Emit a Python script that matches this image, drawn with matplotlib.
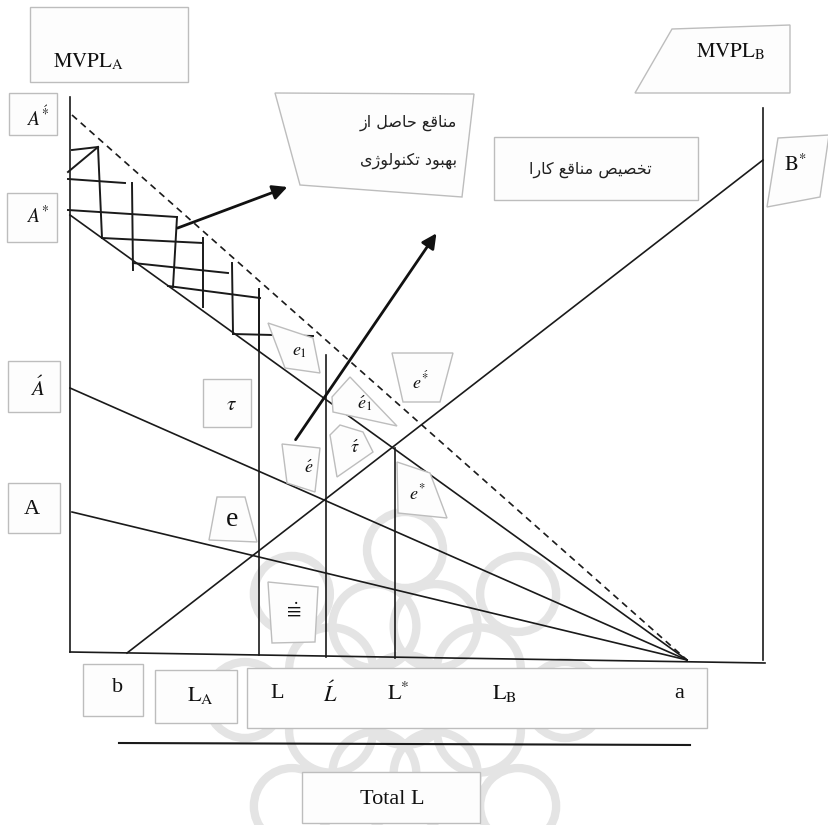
import numpy as np
import matplotlib
matplotlib.use("Agg")
import matplotlib.pyplot as plt
from matplotlib.patches import Polygon, Circle

plt.rcParams['font.family'] = ['Liberation Serif', 'DejaVu Sans']
plt.rcParams['mathtext.fontset'] = 'stix'

# ---- diagram data (picture coordinates, y grows downwards) ----
# MVPL_A family of lines, all ending at point a on the horizontal axis
mvpl_a_names = ["A**", "A*", "A'", "A"]
mvpl_a_start = [(72, 115), (70, 215), (70, 388), (72, 512)]
mvpl_a_style = ["--", "-", "-", "-"]
point_a = (687, 660)

# MVPL_B line from b up to B*
mvpl_b_start = (127, 653)
mvpl_b_end = (763, 160)

# axes of the box diagram
left_axis = [(70, 97), (70, 652)]
right_axis = [(763, 108), (763, 660)]
bottom_axis = [(70, 652), (765, 663)]
total_l_line = [(119, 743), (690, 745)]

# labour allocations L, L', L*
alloc_x = [259, 326, 395]
alloc_top = [290, 355, 448]
alloc_bottom = [655, 657, 658]

# cross hatching of the gains from technology
hatch_segments = [
    [(72, 150), (98, 147)], [(68, 172), (98, 147)], [(68, 179), (125, 183)],
    [(68, 210), (177, 217)], [(102, 238), (203, 243)], [(133, 263), (228, 273)],
    [(168, 286), (260, 298)], [(233, 334), (313, 336)],
    [(98, 147), (102, 238)], [(132, 183), (133, 270)], [(177, 217), (173, 287)],
    [(203, 238), (203, 307)], [(232, 263), (233, 333)], [(259, 289), (259, 350)],
]

# arrows
arrows = [((175, 229), (290, 186)), ((294, 442), (438, 231))]

# label boxes: polygon, text, text position, fontsize
boxes = [
    ([(30, 7), (188, 7), (188, 82), (30, 82)], r"$\mathrm{MVPL}_{\mathrm{A}}$", (88, 62), 15),
    ([(9, 93), (57, 93), (57, 135), (9, 135)], r"$A^{\acute{*}}$", (38, 118), 14),
    ([(7, 193), (57, 193), (57, 242), (7, 242)], r"$A^{*}$", (38, 216), 14),
    ([(8, 361), (60, 361), (60, 412), (8, 412)], r"$\acute{A}$", (37, 389), 15),
    ([(8, 483), (60, 483), (60, 533), (8, 533)], "A", (32, 510), 16),
    ([(203, 379), (251, 379), (251, 427), (203, 427)], r"$\tau$", (231, 405), 15),
    ([(217, 497), (245, 497), (257, 542), (209, 540)], "e", (232, 520), 20),
    ([(268, 582), (318, 587), (315, 642), (272, 643)], r"$\dot{\equiv}$", (292, 613), 15),
    ([(268, 323), (313, 338), (320, 373), (285, 368)], r"$e_1$", (300, 352), 13),
    ([(282, 444), (320, 448), (315, 492), (287, 483)], r"$\acute{e}$", (309, 468), 13),
    ([(350, 377), (397, 426), (333, 412), (332, 397)], r"$\acute{e}_1$", (365, 403), 13),
    ([(340, 425), (363, 432), (373, 452), (337, 477), (330, 435)], r"$\acute{\tau}$", (355, 448), 13),
    ([(392, 353), (453, 353), (440, 402), (403, 402)], r"$e^{\acute{*}}$", (420, 382), 13),
    ([(397, 462), (430, 473), (447, 518), (398, 513)], r"$e^{*}$", (417, 493), 13),
    ([(672, 29), (790, 25), (790, 93), (635, 93)], r"$\mathrm{MVPL}_{\mathrm{B}}$", (730, 52), 15),
    ([(778, 138), (829, 135), (820, 197), (767, 207)], r"$\mathrm{B}^{*}$", (795, 165), 15),
    ([(83, 664), (143, 664), (143, 716), (83, 716)], "b", (118, 688), 16),
    ([(155, 670), (237, 670), (237, 723), (155, 723)], r"$\mathrm{L}_{\mathrm{A}}$", (200, 696), 16),
    ([(247, 668), (707, 668), (707, 728), (247, 728)], None, None, 16),
    ([(302, 772), (480, 772), (480, 823), (302, 823)], "Total L", (392, 800), 16),
]

axis_labels = ["L", r"$\acute{L}$", r"$\mathrm{L}^{*}$", r"$\mathrm{L}_{\mathrm{B}}$", "a"]
axis_label_x = [277, 330, 398, 505, 679]

# Persian notes
note1_lines = ["مناقع حاصل از", "بهبود تکنولوژی"]
note1_box = [(275, 93), (474, 94), (462, 197), (300, 185)]
note2_text = "تخصیص مناقع کارا"
note2_box = [(494, 137), (698, 137), (698, 200), (494, 200)]

# watermark ornament
wm_center = (405, 700)


# ---- simple Arabic shaping (presentation forms, right to left) ----
FORMS = {
    'ا': ('\uFE8D', '\uFE8E', None, None),
    'ب': ('\uFE8F', '\uFE90', '\uFE91', '\uFE92'),
    'ت': ('\uFE95', '\uFE96', '\uFE97', '\uFE98'),
    'ح': ('\uFEA1', '\uFEA2', '\uFEA3', '\uFEA4'),
    'خ': ('\uFEA5', '\uFEA6', '\uFEA7', '\uFEA8'),
    'د': ('\uFEA9', '\uFEAA', None, None),
    'ر': ('\uFEAD', '\uFEAE', None, None),
    'ز': ('\uFEAF', '\uFEB0', None, None),
    'ص': ('\uFEB9', '\uFEBA', '\uFEBB', '\uFEBC'),
    'ع': ('\uFEC9', '\uFECA', '\uFECB', '\uFECC'),
    'ق': ('\uFED5', '\uFED6', '\uFED7', '\uFED8'),
    'ل': ('\uFEDD', '\uFEDE', '\uFEDF', '\uFEE0'),
    'م': ('\uFEE1', '\uFEE2', '\uFEE3', '\uFEE4'),
    'ن': ('\uFEE5', '\uFEE6', '\uFEE7', '\uFEE8'),
    'ه': ('\uFEE9', '\uFEEA', '\uFEEB', '\uFEEC'),
    'و': ('\uFEED', '\uFEEE', None, None),
    'ک': ('\uFB8E', '\uFB8F', '\uFB90', '\uFB91'),
    'ژ': ('\uFB8A', '\uFB8B', None, None),
    'ی': ('\uFBFC', '\uFBFD', '\uFBFE', '\uFBFF'),
}


def shape(text):
    out = []
    for i, ch in enumerate(text):
        if ch not in FORMS:
            out.append(ch)
            continue
        prev = text[i - 1] if i > 0 else ''
        nxt = text[i + 1] if i + 1 < len(text) else ''
        join_prev = prev in FORMS and FORMS[prev][2] is not None
        join_next = nxt in FORMS and FORMS[ch][2] is not None
        iso, fin, ini, med = FORMS[ch]
        if join_prev and join_next:
            out.append(med)
        elif join_prev:
            out.append(fin)
        elif join_next:
            out.append(ini)
        else:
            out.append(iso)
    return ''.join(reversed(out))


fig = plt.figure(figsize=(8.29, 8.25), dpi=100)
ax = fig.add_axes([0, 0, 1, 1])
ax.set_xlim(0, 829)
ax.set_ylim(825, 0)
ax.axis('off')

# watermark (faint rosette behind the lower part)
wm_kw = dict(fill=False, ec='#e4e4e4', lw=6, zorder=0)
for k in range(8):
    ang = np.pi / 8 + k * np.pi / 4
    ax.add_patch(Circle((wm_center[0] + 80 * np.cos(ang), wm_center[1] + 80 * np.sin(ang)), 42, **wm_kw))
    ax.add_patch(Circle((wm_center[0] + 160 * np.cos(ang + np.pi / 8), wm_center[1] + 150 * np.sin(ang + np.pi / 8)),
                        38, **wm_kw))
ax.add_patch(Circle(wm_center, 45, **wm_kw))

line_kw = dict(color='#1a1a1a', lw=1.2, zorder=2)

for seg in [left_axis, right_axis, bottom_axis]:
    ax.plot([seg[0][0], seg[1][0]], [seg[0][1], seg[1][1]], **line_kw)
ax.plot([p[0] for p in total_l_line], [p[1] for p in total_l_line], color='#1a1a1a', lw=1.5)

for start, ls in zip(mvpl_a_start, mvpl_a_style):
    ax.plot([start[0], point_a[0]], [start[1], point_a[1]], ls=ls, dashes=(4, 3) if ls == '--' else (None, None), **line_kw)
ax.plot([mvpl_b_start[0], mvpl_b_end[0]], [mvpl_b_start[1], mvpl_b_end[1]], **line_kw)

for x, top, bot in zip(alloc_x, alloc_top, alloc_bottom):
    ax.plot([x, x], [top, bot], **line_kw)

for seg in hatch_segments:
    ax.plot([seg[0][0], seg[1][0]], [seg[0][1], seg[1][1]], color='#1a1a1a', lw=1.4, zorder=2)

for tail, head in arrows:
    ax.annotate('', xy=head, xytext=tail,
                arrowprops=dict(arrowstyle='-|>', color='#111111', lw=2.0, mutation_scale=22), zorder=4)

box_kw = dict(closed=True, fc='#fdfdfd', ec='#bdbdbd', lw=1.0, zorder=3)
for poly, label, pos, fs in boxes:
    ax.add_patch(Polygon(poly, **box_kw))
    if label:
        ax.text(pos[0], pos[1], label, fontsize=fs, ha='center', va='center', zorder=5, color='#111111')

for lab, x in zip(axis_labels, axis_label_x):
    ax.text(x, 694, lab, fontsize=16, ha='center', va='center', zorder=5, color='#111111')

ax.add_patch(Polygon(note1_box, **box_kw))
for i, line in enumerate(note1_lines):
    ax.text(457, 123 + 38 * i, shape(line), fontsize=11.5, ha='right', va='center',
            family=['DejaVu Sans'], zorder=5, color='#222222')
ax.add_patch(Polygon(note2_box, **box_kw))
ax.text(590, 170, shape(note2_text), fontsize=11.5, ha='center', va='center',
        family=['DejaVu Sans'], zorder=5, color='#222222')

fig.savefig('out.png', dpi=100)
